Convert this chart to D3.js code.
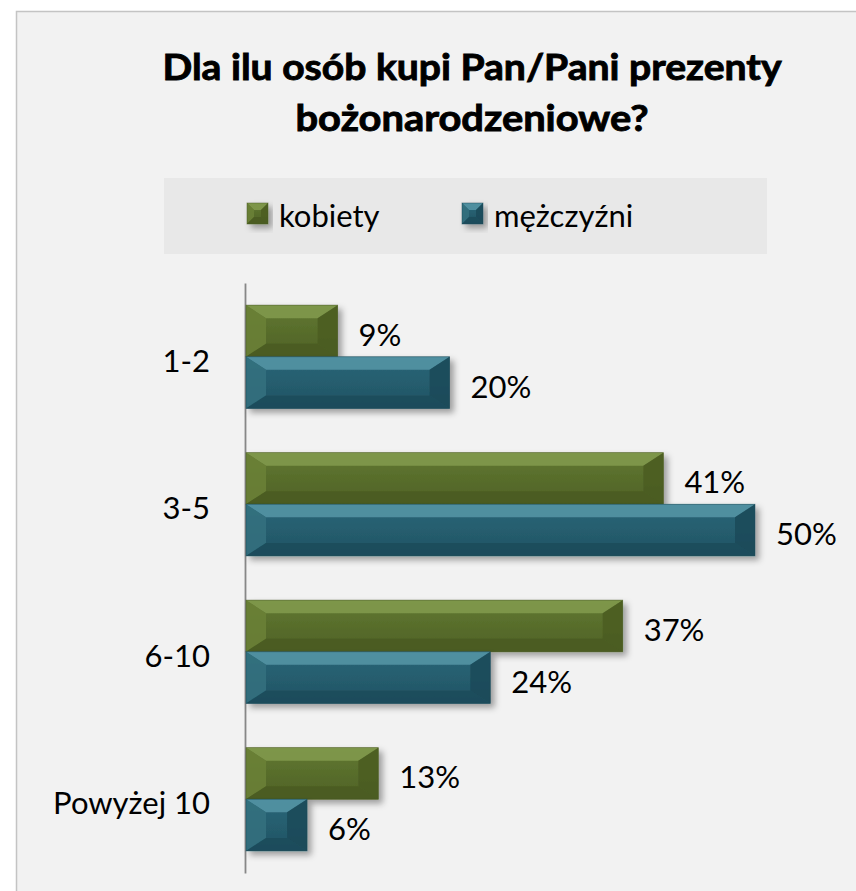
<!DOCTYPE html>
<html>
<head>
<meta charset="utf-8">
<script src="https://cdn.jsdelivr.net/npm/d3@7"></script>
<style>
  body { margin: 0; background: #fff; }
  text { font-family: Lato, "Open Sans", sans-serif; fill: #000; }
</style>
</head>
<body>
<div id="chart"></div>
<script>
// data
const categories = ["1-2", "3-5", "6-10", "Powyżej 10"];
const seriesNames = ["kobiety", "mężczyźni"];
const kobiety = [9, 41, 37, 13];
const mezczyzni = [20, 50, 24, 6];
const titleLines = ["Dla ilu osób kupi Pan/Pani prezenty", "bożonarodzeniowe?"];

// face colours for bevelled bars: [flat top, flat bottom, top, left, right, bottom]
const palette = {
  "kobiety":   ["#617832", "#4f6225", "#839b4f", "#6b8137", "#4b5c22", "#4a5b21"],
  "mężczyźni": ["#2b6778", "#205364", "#5796a7", "#32717f", "#1c4a58", "#1c4b59"]
};

const W = 856, H = 891;

var svg = d3.select("#chart")
  .append("svg")
    .attr("width", W)
    .attr("height", H);

var defs = svg.append("defs");
var f = defs.append("filter").attr("id", "shadow")
  .attr("x", "-10%").attr("y", "-20%").attr("width", "130%").attr("height", "160%");
f.append("feDropShadow")
  .attr("dx", 4).attr("dy", 4).attr("stdDeviation", 3)
  .attr("flood-color", "#000").attr("flood-opacity", 0.35);

Object.keys(palette).forEach(function(s, i) {
  var gr = defs.append("linearGradient")
    .attr("id", "flat" + i)
    .attr("x1", 0).attr("y1", 0).attr("x2", 0).attr("y2", 1);
  gr.append("stop").attr("offset", "0%").attr("stop-color", palette[s][0]);
  gr.append("stop").attr("offset", "100%").attr("stop-color", palette[s][1]);
});

// panel
svg.append("rect")
  .attr("x", 16.5).attr("y", 11.5)
  .attr("width", W + 20).attr("height", H + 20)
  .attr("fill", "#f2f2f2")
  .attr("stroke", "#c4c4c4")
  .attr("stroke-width", 1.5);

// title (stroke thickens Lato bold toward the heavy original)
svg.selectAll(".title")
  .data(titleLines)
  .enter()
  .append("text")
    .attr("class", "title")
    .attr("x", 472)
    .attr("y", (d, i) => 80 + i * 51)
    .attr("text-anchor", "middle")
    .attr("textLength", (d, i) => i === 0 ? 619 : 353)
    .attr("lengthAdjust", "spacingAndGlyphs")
    .attr("stroke", "#000")
    .attr("stroke-width", 0.9)
    .style("font-size", "37px")
    .style("font-weight", "bold")
    .text(d => d);

// scales
var y0 = d3.scaleBand()
  .domain(categories)
  .range([283, 873])
  .paddingInner(0.3)
  .paddingOuter(0.15);
var y1 = d3.scaleBand()
  .domain(seriesNames)
  .range([0, y0.bandwidth()]);
var x = d3.scaleLinear()
  .domain([0, 50])
  .range([246, 755]);

// bevelled box drawn as a flat face and four sloped faces
function bevel(g, x0, y0_, w, h, s, bxMax, byMax) {
  var cols = palette[s];
  var x1 = x0 + w, y1_ = y0_ + h;
  var bx = Math.min(bxMax, w / 2), by = Math.min(byMax, h / 2);
  g.append("rect")
    .attr("x", x0).attr("y", y0_)
    .attr("width", w).attr("height", h)
    .attr("fill", "url(#flat" + seriesNames.indexOf(s) + ")");
  var faces = [
    [[x0, y0_], [x1, y0_], [x1 - bx, y0_ + by], [x0 + bx, y0_ + by]],
    [[x0, y0_], [x0 + bx, y0_ + by], [x0 + bx, y1_ - by], [x0, y1_]],
    [[x1, y0_], [x1, y1_], [x1 - bx, y1_ - by], [x1 - bx, y0_ + by]],
    [[x0, y1_], [x1, y1_], [x1 - bx, y1_ - by], [x0 + bx, y1_ - by]]
  ];
  g.selectAll("path.face")
    .data(faces)
    .enter()
    .append("path")
      .attr("class", "face")
      .attr("d", d => "M" + d.join("L") + "Z")
      .attr("fill", (d, i) => cols[i + 2])
      .attr("fill-opacity", 0.85);
  g.append("rect")
    .attr("x", x0).attr("y", y0_)
    .attr("width", w).attr("height", h)
    .attr("fill", "none")
    .attr("stroke", cols[5])
    .attr("stroke-opacity", 0.6)
    .attr("stroke-width", 0.8);
}

// legend
svg.append("rect")
  .attr("x", 164).attr("y", 178)
  .attr("width", 603).attr("height", 76)
  .attr("fill", "#e8e8e8");

var legendX = [247, 462];
seriesNames.forEach(function(s, i) {
  var lg = svg.append("g").attr("filter", "url(#shadow)");
  bevel(lg, legendX[i], 203, 21, 21, s, 7, 7);
  svg.append("text")
    .attr("x", legendX[i] + 32)
    .attr("y", 227)
    .style("font-size", "31px")
    .text(s);
});

// y axis
var yAxisG = svg.append("g")
  .attr("transform", "translate(245,0)")
  .call(d3.axisLeft(y0).tickSize(0).tickPadding(35));
yAxisG.select(".domain")
  .attr("stroke", "#878787")
  .attr("stroke-width", 1.8);
yAxisG.selectAll("text")
  .attr("dy", "0.48em")
  .style("font-family", "Lato, 'Open Sans', sans-serif")
  .style("font-size", "31px")
  .attr("fill", "#000");

// bars
var rows = [];
categories.forEach(function(c, i) {
  rows.push({cat: c, series: "kobiety", value: kobiety[i]});
  rows.push({cat: c, series: "mężczyźni", value: mezczyzni[i]});
});

var barsG = svg.append("g");
rows.forEach(function(d) {
  var g = barsG.append("g").attr("filter", "url(#shadow)");
  var by = y0(d.cat) + y1(d.series);
  bevel(g, x(0), by, x(d.value) - x(0), y1.bandwidth(), d.series, 20, 13);
});

// value labels
svg.append("g")
  .selectAll("text")
  .data(rows)
  .enter()
  .append("text")
    .attr("x", d => x(d.value) + 21)
    .attr("y", d => y0(d.cat) + y1(d.series) + y1.bandwidth() / 2 + 15)
    .style("font-size", "31px")
    .text(d => d.value + "%");
</script>
</body>
</html>
